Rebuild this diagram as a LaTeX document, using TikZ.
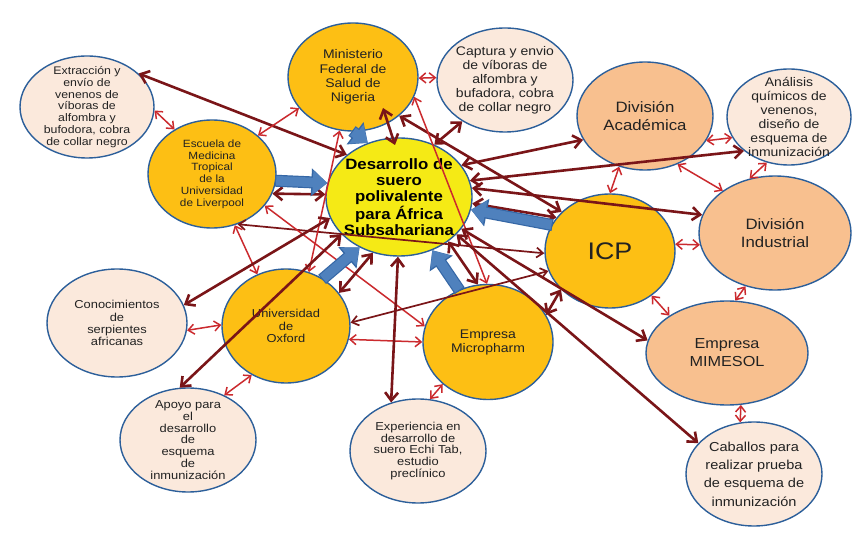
\documentclass[tikz,border=0pt]{standalone}
\usepackage{fontspec}
\setmainfont{Liberation Sans}[FakeStretch=1.12]
\usetikzlibrary{arrows.meta,shapes.geometric,calc}
\definecolor{gold}{HTML}{FDBF14}
\definecolor{peach}{HTML}{F8C08F}
\definecolor{cream}{HTML}{FBE9DC}
\definecolor{rim}{HTML}{2C5F9A}
\definecolor{sun}{HTML}{F5EA15}
\definecolor{blk}{HTML}{4F81BD}
\definecolor{blkdark}{HTML}{3567A6}
\definecolor{maroon}{HTML}{7A1518}
\definecolor{brick}{HTML}{CB2A2E}
\definecolor{ink}{HTML}{222222}
\tikzset{
  bubble/.style={ellipse, draw=rim, line width=1.4pt, inner xsep=-8pt, inner ysep=-14pt, align=center, text=ink},
  txtsize/.style 2 args={font=\fontsize{#1}{#2}\selectfont},
  dk/.style={draw=maroon, line width=2.6pt, {Straight Barb[length=8pt,width=13pt]}-{Straight Barb[length=8pt,width=13pt]}},
  dkthin/.style={draw=maroon, line width=1.7pt, {Straight Barb[length=6.5pt,width=10pt]}-{Straight Barb[length=6.5pt,width=10pt]}},
  rd/.style={draw=brick, line width=1.5pt, {Straight Barb[length=6pt,width=10pt]}-{Straight Barb[length=6pt,width=10pt]}},
  blockunder/.style={draw=blkdark, line width=12pt, shorten <=-1.2pt, -{Triangle[length=16pt,width=27pt]}},
  blocktop/.style={draw=blk, line width=9.6pt, -{Triangle[length=14.5pt,width=23pt]}}
}
\begin{document}
\begin{tikzpicture}[x=1pt,y=-1pt]
\useasboundingbox (0,0) rectangle (857,537);
\fill[white] (0,0) rectangle (857,537);

% nodes
\node[bubble, fill=cream, minimum width=134pt, minimum height=102pt, txtsize={11}{11.7}] (E1) at (87,107)
  {Extracción y\\envío de\\venenos de\\víboras de\\alfombra y\\bufodora, cobra\\de collar negro};
\node[bubble, fill=gold, minimum width=128pt, minimum height=108pt, txtsize={10.5}{11.8}] (L) at (212,174)
  {Escuela de\\Medicina\\Tropical\\de la\\Universidad\\de Liverpool};
\node[bubble, fill=gold, minimum width=130pt, minimum height=108pt, txtsize={12.5}{14.4}] (M) at (353,77)
  {Ministerio\\Federal de\\Salud de\\Nigeria};
\node[bubble, fill=cream, minimum width=136pt, minimum height=104pt, txtsize={12.5}{14}] (Cap) at (505,80)
  {Captura y envio\\de víboras de\\alfombra y\\bufadora, cobra\\de collar negro};
\node[bubble, fill=peach, minimum width=136pt, minimum height=108pt, txtsize={15}{18}] (DA) at (645,116)
  {División\\Académica};
\node[bubble, fill=cream, minimum width=124pt, minimum height=96pt, txtsize={12.5}{14}] (An) at (789,117)
  {Análisis\\químicos de\\venenos,\\diseño de\\esquema de\\inmunización};
\node[bubble, fill=gold, minimum width=130pt, minimum height=114pt, txtsize={24}{28}] (ICP) at (610,251)
  {ICP};
\node[bubble, fill=peach, minimum width=152pt, minimum height=114pt, txtsize={15}{18}] (DI) at (775,233)
  {División\\Industrial};
\node[bubble, fill=peach, minimum width=162pt, minimum height=104pt, txtsize={14.5}{18}] (MIM) at (727,353)
  {Empresa\\MIMESOL};
\node[bubble, fill=cream, minimum width=136pt, minimum height=104pt, txtsize={13}{18.3}] (Cab) at (754,474)
  {Caballos para\\realizar prueba\\de esquema de\\inmunización};
\node[bubble, fill=gold, minimum width=130pt, minimum height=115pt, txtsize={12.5}{14}] (MP) at (488,342)
  {Empresa\\Micropharm};
\node[bubble, fill=cream, minimum width=136pt, minimum height=104pt, txtsize={11.5}{11.7}] (Exp) at (418,451)
  {Experiencia en\\desarrollo de\\suero Echi Tab,\\estudio\\preclínico};
\node[bubble, fill=gold, minimum width=128pt, minimum height=114pt, txtsize={11.5}{12.3}] (Ox) at (286,326)
  {Universidad\\de\\Oxford};
\node[bubble, fill=cream, minimum width=140pt, minimum height=108pt, txtsize={11.5}{12.2}] (Con) at (117,323)
  {Conocimientos\\de\\serpientes\\africanas};
\node[bubble, fill=cream, minimum width=136pt, minimum height=104pt, txtsize={11.5}{11.8}] (Ap) at (188,440)
  {Apoyo para\\el\\desarrollo\\de\\esquema\\de\\inmunización};
\node[bubble, fill=sun, minimum width=146pt, minimum height=118pt, txtsize={15}{16.3}, text=black] (C) at (399,197)
  {\bfseries Desarrollo de\\\bfseries suero\\\bfseries polivalente\\\bfseries para África\\\bfseries Subsahariana};

% connectors
\draw[dk] (E1.33) -- (C.141);
\draw[rd] (E1.-3) -- (L.130);
\draw[rd] (L.40) -- (M.-150);
\draw[dk] (L.-18) -- (C.178);
\draw[dkthin] (L.-63) -- (ICP.-178);
\draw[rd] (L.-31) -- (MP.166);
\draw[rd] (L.-66) -- (Ox.119);
\draw[rd] (M.-104) -- (Ox.67);
\draw[dk] ($(M.center)+(30,31)$) -- ($(C.center)+(-4,-52)$);
\draw[dk] (M.-40) -- (ICP.141);
\draw[rd] (M.-18) -- (MP.91);
\draw[rd] (M.-1) -- (Cap.178);
\draw[dk] (Cap.-136) -- (C.56);
\draw[dk] (C.27) -- (DA.-159);
\draw[dk] (C.13) -- (An.-143);
\draw[dk] (C.7) -- (DI.166);
\draw[dk] (C.-5) -- (ICP.148);
\draw[rd] (DA.-22) -- (An.-160);
\draw[rd] (DA.-117) -- (ICP.90);
\draw[rd] (DA.-56) -- (DI.141);
\draw[rd] (An.-116) -- (DI.115);
\draw[rd] (ICP.6) -- (DI.-171);
\draw[rd] (ICP.-47) -- (MIM.147);
\draw[rd] (DI.-119) -- (MIM.81);
\draw[rd] (MIM.-75) -- (Cab.105);
\draw[dk] (C.-27) -- (MIM.171);
\draw[dk] (C.-33) -- (Cab.151);
\draw[dk] (C.-42) -- (MP.100);
\draw[dk] (MP.25) -- (ICP.-142);
\draw[dkthin] (Ox.3) -- (ICP.-162);
\draw[rd] (Ox.-12) -- (MP.180);
\draw[rd] (Con.-6) -- (Ox.179);
\draw[dk] (C.-163) -- (Con.15);
\draw[dk] (C.-147) -- (Ap.99);
\draw[dk] (C.-115) -- (Ox.32);
\draw[dk] (C.-91) -- (Exp.119);
\draw[rd] (Exp.77) -- (MP.-137);
\draw[rd] (Ap.51) -- (Ox.-125);

% block arrows
\foreach \s/\a/\b in {M/-90/120, L/-6/169, Ox/52/-128, MP/119/-58, ICP/156/-10}{
  \draw[blockunder] (\s.\a) -- (C.\b);
  \draw[blocktop] (\s.\a) -- (C.\b);
}
\end{tikzpicture}
\end{document}
